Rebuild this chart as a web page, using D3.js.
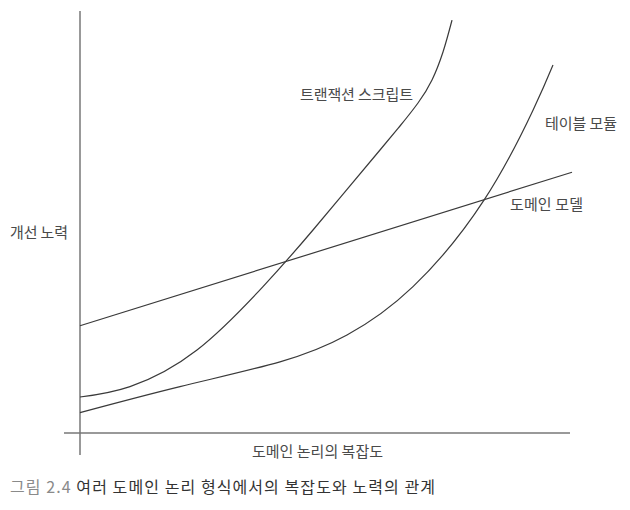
<!DOCTYPE html>
<html>
<head>
<meta charset="utf-8">
<script src="https://cdn.jsdelivr.net/npm/d3@7"></script>
<style>
  body { margin: 0; background: #fff; }
  text { font-family: "Noto Sans CJK KR", "Noto Sans", sans-serif; }
</style>
</head>
<body>
<div id="container"></div>
<script>
/* CONSTANTS AND GLOBALS */
const width = 630;
const height = 510;

/* DATA - complexity (x) vs effort (y) */
const transactionX = [0, 10, 23.4, 36.6, 46.6, 60, 64, 67.6, 70.4, 72.6, 74.4];
const transactionY = [9.0, 11.6, 20.75, 36.6, 50.75, 70.75, 76.75, 82.5, 88.25, 95.25, 103.2];

const tableX = [0, 20, 40, 53.4, 66.6, 80.8, 90.6, 94.6];
const tableY = [5.1, 11.6, 17.8, 24.5, 36.6, 58.2, 80.7, 92.0];

const domainX = [0, 98.4];
const domainY = [26.8, 65.2];

const seriesNames = ["트랜잭션 스크립트", "테이블 모듈", "도메인 모델"];
const xTitle = "도메인 논리의 복잡도";
const yTitle = "개선 노력";
const captionNo = "그림 2.4";
const captionText = "여러 도메인 논리 형식에서의 복잡도와 노력의 관계";

/* SCALES */
const xScale = d3.scaleLinear().domain([0, 100]).range([80, 580]);
const yScale = d3.scaleLinear().domain([0, 100]).range([433, 33]);

const svg = d3.select("#container")
  .append("svg")
  .attr("width", width)
  .attr("height", height);

// axes (plain lines, no ticks)
svg.append("line")
  .attr("x1", xScale(-3.2)).attr("x2", xScale(98))
  .attr("y1", yScale(0)).attr("y2", yScale(0))
  .attr("stroke", "#777").attr("stroke-width", 1.5);

svg.append("line")
  .attr("x1", xScale(0)).attr("x2", xScale(0))
  .attr("y1", yScale(105.5)).attr("y2", yScale(-5.5))
  .attr("stroke", "#777").attr("stroke-width", 1.5);

// curves
const line = d3.line()
  .x(d => xScale(d[0]))
  .y(d => yScale(d[1]))
  .curve(d3.curveNatural);

const series = [
  d3.zip(transactionX, transactionY),
  d3.zip(tableX, tableY),
  d3.zip(domainX, domainY)
];

svg.selectAll("path.curve")
  .data(series)
  .join("path")
  .attr("class", "curve")
  .attr("d", line)
  .attr("fill", "none")
  .attr("stroke", "#3a3a3a")
  .attr("stroke-width", 1.2);

// stretch a label to the width it has in the original
function fitWidth(sel, target) {
  sel.each(function() {
    const n = this.getNumberOfChars();
    const natural = this.getComputedTextLength();
    d3.select(this).style("letter-spacing", ((target - natural) / (n - 1)) + "px");
  });
}

// series labels
const labelPos = [[300, 95], [545, 124], [510, 205]];
const labelWidth = [113, 72, 73];
svg.selectAll("text.label")
  .data(seriesNames)
  .join("text")
  .attr("class", "label")
  .attr("x", (d, i) => labelPos[i][0])
  .attr("y", (d, i) => labelPos[i][1])
  .attr("dy", "0.35em")
  .attr("fill", "#4a4a4a")
  .style("font-size", "15px")
  .text(d => d)
  .each(function(d, i) { fitWidth(d3.select(this), labelWidth[i]); });

// axis titles
svg.append("text")
  .attr("x", 10).attr("y", 233).attr("dy", "0.35em")
  .attr("fill", "#4a4a4a")
  .style("font-size", "15px")
  .text(yTitle)
  .call(fitWidth, 58);

svg.append("text")
  .attr("x", 252).attr("y", 452).attr("dy", "0.35em")
  .attr("fill", "#4a4a4a")
  .style("font-size", "15px")
  .text(xTitle)
  .call(fitWidth, 131);

// caption
const cap = svg.append("text")
  .attr("x", 10).attr("y", 487).attr("dy", "0.35em")
  .style("font-size", "16px");
cap.append("tspan").attr("fill", "#8a8a8a").text(captionNo + " ");
cap.append("tspan").attr("fill", "#333").text(captionText);
cap.call(fitWidth, 425);
</script>
</body>
</html>
